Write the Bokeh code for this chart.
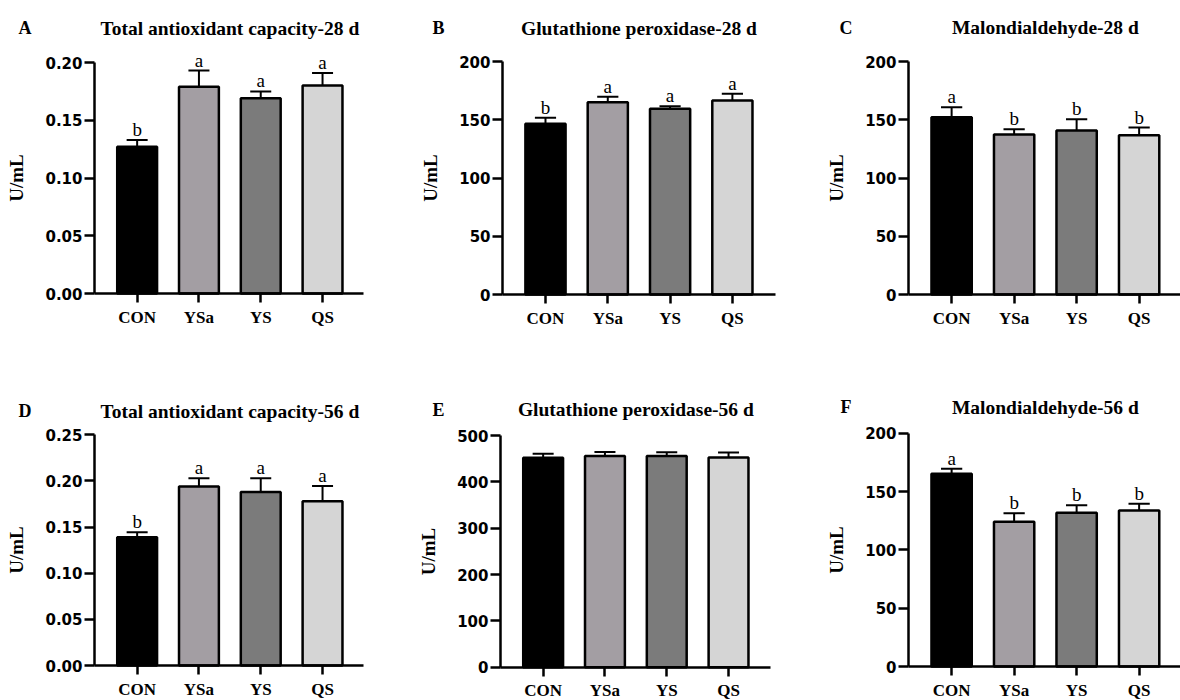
from bokeh.plotting import figure
from bokeh.layouts import column, row
from bokeh.models import (ColumnDataSource, FixedTicker, Range1d, Label,
                          PrintfTickFormatter, LinearAxis)
from bokeh.embed import file_html
from bokeh.resources import INLINE
from bokeh.core.properties import value

# ---------------- data ----------------
groups = ["CON", "YSa", "YS", "QS"]
bar_colors = ["#000000", "#a39ea3", "#7b7b7b", "#d5d5d5"]

tac28_mean = [0.127, 0.179, 0.169, 0.180]
tac28_sem = [0.006, 0.014, 0.006, 0.011]
tac28_sig = ["b", "a", "a", "a"]

gpx28_mean = [146.5, 165.0, 159.5, 166.5]
gpx28_sem = [5.2, 4.7, 2.0, 5.8]
gpx28_sig = ["b", "a", "a", "a"]

mda28_mean = [152.2, 137.3, 140.8, 136.8]
mda28_sem = [8.6, 4.6, 9.7, 6.5]
mda28_sig = ["a", "b", "b", "b"]

tac56_mean = [0.139, 0.194, 0.188, 0.178]
tac56_sem = [0.0055, 0.009, 0.015, 0.0165]
tac56_sig = ["b", "a", "a", "a"]

gpx56_mean = [452.0, 456.0, 456.0, 452.5]
gpx56_sem = [8.6, 8.6, 8.0, 10.8]
gpx56_sig = ["", "", "", ""]

mda56_mean = [165.2, 124.0, 131.7, 133.7]
mda56_sem = [4.3, 7.4, 6.6, 5.8]
mda56_sig = ["a", "b", "b", "b"]

panels = [
    ("A", "Total antioxidant capacity-28 d", tac28_mean, tac28_sem, tac28_sig, 0.20, 0.05, "%.2f"),
    ("B", "Glutathione peroxidase-28 d", gpx28_mean, gpx28_sem, gpx28_sig, 200, 50, "%d"),
    ("C", "Malondialdehyde-28 d", mda28_mean, mda28_sem, mda28_sig, 200, 50, "%d"),
    ("D", "Total antioxidant capacity-56 d", tac56_mean, tac56_sem, tac56_sig, 0.25, 0.05, "%.2f"),
    ("E", "Glutathione peroxidase-56 d", gpx56_mean, gpx56_sem, gpx56_sig, 500, 100, "%d"),
    ("F", "Malondialdehyde-56 d", mda56_mean, mda56_sem, mda56_sig, 200, 50, "%d"),
]

# layout per panel (pixels inside each figure):
# (fig width, fig height, y-axis x, plot top, plot bottom, x-axis length, px per group,
#  title baseline y, letter x)
layouts = [
    (394, 340, 94, 62.0, 293.0, 269, 61.8, 27.5, 18),
    (394, 340, 108, 61.0, 294.0, 273, 62.3, 27.5, 38),
    (392, 340, 120, 61.0, 294.0, 272, 62.5, 27.3, 51),
    (394, 360, 94, 94.3, 325.0, 269, 61.8, 70.7, 18),
    (394, 360, 106, 95.0, 326.7, 270, 61.8, 69.3, 38),
    (392, 360, 120, 92.7, 326.0, 272, 62.5, 66.7, 52),
]

X0 = -0.69

SERIF = "Liberation Serif"
SANS = "DejaVu Sans"


def make_panel(spec, lay):
    letter, title, mean, sem, sig, ymax, ystep, fmt = spec
    w, h, ax_x, top_px, bot_px, xlen_px, ppu, title_y, letter_x = lay
    xs = list(range(len(groups)))
    ypp = ymax / (bot_px - top_px)  # data units per pixel (y)
    xstart = X0 - ax_x / ppu
    xend = xstart + w / ppu
    ystart = -(h - bot_px) * ypp
    yend = ymax + top_px * ypp

    p = figure(width=w, height=h, output_backend="svg", toolbar_location=None,
               x_range=Range1d(xstart, xend), y_range=Range1d(ystart, yend),
               x_axis_location=None, y_axis_location=None,
               min_border=0, background_fill_color="white",
               border_fill_color="white", outline_line_color=None)
    p.xgrid.visible = False
    p.ygrid.visible = False

    src = ColumnDataSource(dict(
        x=xs, top=mean, color=bar_colors,
        err=[m + s for m, s in zip(mean, sem)],
        capl=[x - 0.17 for x in xs], capr=[x + 0.17 for x in xs],
        sig=sig,
    ))
    p.segment(x0="x", y0="top", x1="x", y1="err", source=src, line_color="black", line_width=2)
    p.segment(x0="capl", y0="err", x1="capr", y1="err", source=src, line_color="black", line_width=2)
    p.vbar(x="x", top="top", bottom=0, width=0.645, source=src, fill_color="color",
           line_color="black", line_width=2.5)
    p.text(x="x", y="err", text="sig", source=src, text_align="center",
           text_baseline="bottom", y_offset=0, text_font=value(SERIF),
           text_font_size="19px", text_color="black")

    # y axis
    n = int(round(ymax / ystep))
    yax = LinearAxis(fixed_location=X0, bounds=(0, ymax))
    yax.ticker = FixedTicker(ticks=[round(i * ystep, 6) for i in range(n + 1)])
    yax.formatter = PrintfTickFormatter(format=fmt)
    yax.minor_tick_line_color = None
    yax.major_tick_in = 0
    yax.major_tick_out = 10
    yax.major_tick_line_width = 2.5
    yax.axis_line_width = 2.5
    yax.major_label_standoff = 2
    yax.major_label_text_font = SANS
    yax.major_label_text_font_style = "bold"
    yax.major_label_text_font_size = "15px"
    yax.major_label_text_color = "black"
    yax.axis_label = "U/mL"
    yax.axis_label_text_font = SERIF
    yax.axis_label_text_font_style = "bold"
    yax.axis_label_text_font_size = "19px"
    yax.axis_label_standoff = 15
    yax.axis_label_text_color = "black"
    p.add_layout(yax, "left")

    # x axis
    x_axis_end = X0 + xlen_px / ppu
    xax = LinearAxis(fixed_location=0, bounds=(X0, x_axis_end))
    xax.ticker = FixedTicker(ticks=xs)
    xax.major_label_overrides = {i: g for i, g in enumerate(groups)}
    xax.minor_tick_line_color = None
    xax.major_tick_in = 0
    xax.major_tick_out = 9
    xax.major_tick_line_width = 2.5
    xax.axis_line_width = 2.5
    xax.major_label_standoff = 5
    xax.major_label_text_font = SERIF
    xax.major_label_text_font_style = "bold"
    xax.major_label_text_font_size = "17px"
    xax.major_label_text_color = "black"
    p.add_layout(xax, "below")

    # title and panel letter
    ty = ymax + (top_px - title_y) * ypp
    p.add_layout(Label(x=1.5, y=ty, text=title, text_align="center",
                       text_baseline="alphabetic", text_font=SERIF, text_font_style="bold",
                       text_font_size="19.5px", text_color="black"))
    p.add_layout(Label(x=xstart + letter_x / ppu, y=ty, text=letter,
                       text_align="left", text_baseline="alphabetic", text_font=SERIF,
                       text_font_style="bold", text_font_size="18px", text_color="black"))
    return p


figs = [make_panel(s, l) for s, l in zip(panels, layouts)]
page = column(row(*figs[:3]), row(*figs[3:]))

open("out.html", "w").write(file_html(page, INLINE))
